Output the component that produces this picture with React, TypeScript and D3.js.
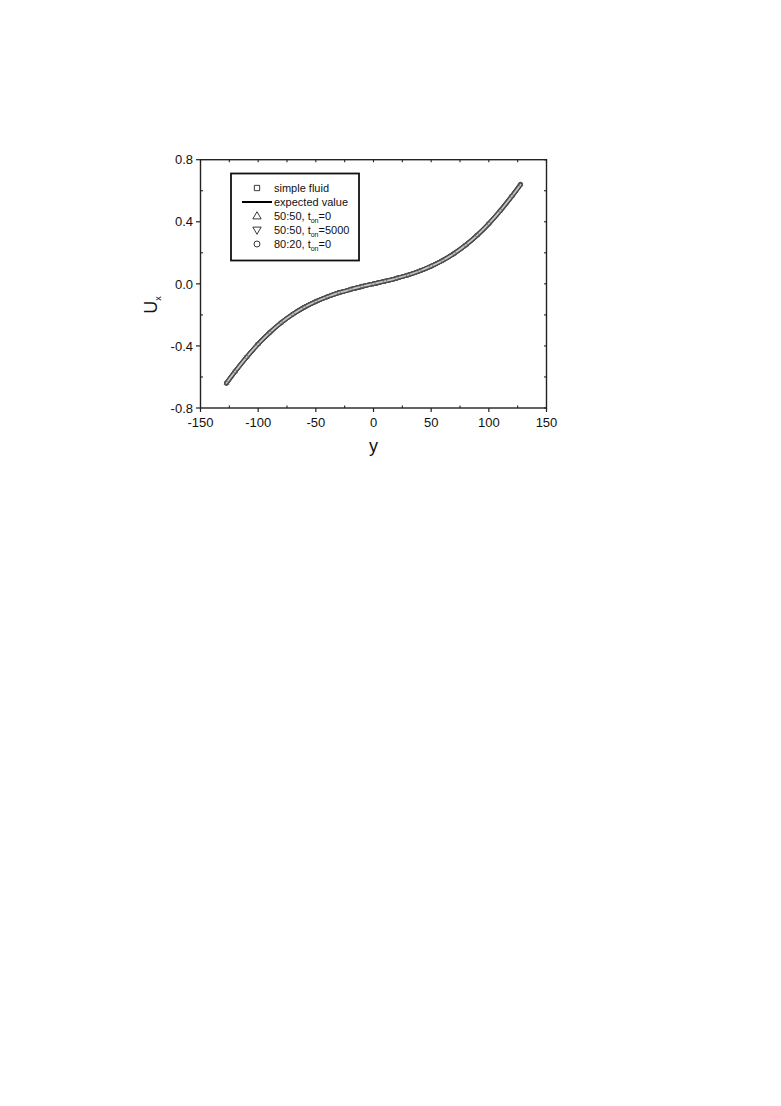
import React from 'react'
import * as d3 from 'd3'

// channel position y and velocity Ux
const yValues = [
  -127.5, -120, -110, -100, -90, -80, -70, -60, -50, -40, -30, -20, -10, 0,
  10, 20, 30, 40, 50, 60, 70, 80, 90, 100, 110, 120, 127.5,
]
const expectedUx = [
  -0.64, -0.565, -0.472, -0.388, -0.314, -0.25, -0.196, -0.151, -0.114, -0.083, -0.057, -0.036, -0.017, 0,
  0.017, 0.036, 0.057, 0.083, 0.114, 0.151, 0.196, 0.25, 0.314, 0.388, 0.472, 0.565, 0.64,
]
const simpleFluidUx = [
  -0.641, -0.565, -0.472, -0.388, -0.314, -0.25, -0.196, -0.151, -0.114, -0.083, -0.057, -0.036, -0.017, 0,
  0.017, 0.036, 0.057, 0.083, 0.114, 0.151, 0.196, 0.25, 0.314, 0.388, 0.472, 0.565, 0.641,
]
const mix5050T0Ux = [
  -0.64, -0.565, -0.472, -0.388, -0.314, -0.25, -0.196, -0.151, -0.114, -0.083, -0.057, -0.036, -0.017, 0,
  0.017, 0.036, 0.057, 0.083, 0.114, 0.151, 0.196, 0.25, 0.314, 0.388, 0.472, 0.565, 0.64,
]
const mix5050T5000Ux = [
  -0.64, -0.565, -0.472, -0.388, -0.314, -0.25, -0.196, -0.151, -0.114, -0.083, -0.057, -0.036, -0.017, 0,
  0.017, 0.036, 0.057, 0.083, 0.114, 0.151, 0.196, 0.25, 0.314, 0.388, 0.472, 0.565, 0.64,
]
const mix8020T0Ux = [
  -0.639, -0.565, -0.472, -0.388, -0.314, -0.25, -0.196, -0.151, -0.114, -0.083, -0.057, -0.036, -0.017, 0,
  0.017, 0.036, 0.057, 0.083, 0.114, 0.151, 0.196, 0.25, 0.314, 0.388, 0.472, 0.565, 0.639,
]

const xMajor = [-150, -100, -50, 0, 50, 100, 150]
const xMinor = [-125, -75, -25, 25, 75, 125]
const yMajor = [-0.8, -0.4, 0.0, 0.4, 0.8]
const yMinor = [-0.6, -0.2, 0.2, 0.6]

const font = '"Liberation Sans", Arial, sans-serif'

const W = 781
const H = 1106
const left = 200.5
const right = 546.5
const top = 159.7
const bottom = 408

export default function App() {
  const x = d3.scaleLinear().domain([-150, 150]).range([left, right])
  const y = d3.scaleLinear().domain([-0.8, 0.8]).range([bottom, top])

  const pts = (vals: number[]) => yValues.map((v, i) => [v, vals[i]] as [number, number])
  const line = d3
    .line<[number, number]>()
    .x(d => x(d[0]))
    .y(d => y(d[1]))
    .curve(d3.curveCatmullRom)

  const markerSeries = [
    { name: 'simple fluid', vals: simpleFluidUx, sym: d3.symbolSquare, rot: 0 },
    { name: '50:50 t0', vals: mix5050T0Ux, sym: d3.symbolTriangle, rot: 0 },
    { name: '50:50 t5000', vals: mix5050T5000Ux, sym: d3.symbolTriangle, rot: 180 },
    { name: '80:20 t0', vals: mix8020T0Ux, sym: d3.symbolCircle, rot: 0 },
  ]

  const legendSym = (sym: d3.SymbolType, size: number) => d3.symbol().type(sym).size(size)() || ''

  const fmtY = (v: number) => v.toFixed(1)
  const axisColor = '#222'

  const legendX = 257
  const textX = 274
  const rows = [188, 202, 216, 230, 244]

  return (
    <svg
      width={W}
      height={H}
      style={{ position: 'absolute', left: 0, top: 0, background: '#fff' }}
      fontFamily={font}
    >
      {/* expected value line */}
      <path d={line(pts(expectedUx)) || ''} fill="none" stroke="#000" strokeWidth={1.2} />

      {/* marker series: dense markers form a grey band */}
      {markerSeries.map(s => (
        <g key={s.name}>
          <path d={line(pts(s.vals)) || ''} fill="none" stroke="#4a4a4a" strokeWidth={4.4} strokeLinecap="round" />
          <path d={line(pts(s.vals)) || ''} fill="none" stroke="#c4c4c4" strokeWidth={1.8} strokeLinecap="round" />
          {pts(s.vals).map((d, i) => (
            <path
              key={i}
              d={legendSym(s.sym, 10)}
              transform={`translate(${x(d[0])},${y(d[1])}) rotate(${s.rot})`}
              fill="none"
              stroke="#5a5a5a"
              strokeWidth={0.6}
            />
          ))}
        </g>
      ))}

      {/* frame */}
      <rect
        x={left}
        y={top}
        width={right - left}
        height={bottom - top}
        fill="none"
        stroke={axisColor}
        strokeWidth={1.4}
      />

      {/* bottom axis */}
      {xMajor.map(t => (
        <g key={'bx' + t}>
          <line x1={x(t)} x2={x(t)} y1={bottom} y2={bottom + 4} stroke={axisColor} strokeWidth={1.2} />
          <text x={x(t)} y={427} textAnchor="middle" fontSize={13} fill="#111">
            {t}
          </text>
        </g>
      ))}
      {xMinor.map(t => (
        <line key={'bm' + t} x1={x(t)} x2={x(t)} y1={bottom} y2={bottom - 2.5} stroke={axisColor} strokeWidth={1.1} />
      ))}
      {/* top axis: inward ticks */}
      {xMajor.concat(xMinor).map(t => (
        <line key={'tx' + t} x1={x(t)} x2={x(t)} y1={top} y2={top + 2.5} stroke={axisColor} strokeWidth={1.1} />
      ))}

      {/* left axis */}
      {yMajor.map(t => (
        <g key={'ly' + t}>
          <line x1={left - 4.5} x2={left} y1={y(t)} y2={y(t)} stroke={axisColor} strokeWidth={1.2} />
          <text x={193} y={y(t) + 4.7} textAnchor="end" fontSize={13} fill="#111">
            {fmtY(t)}
          </text>
        </g>
      ))}
      {yMinor.map(t => (
        <line key={'lm' + t} x1={left} x2={left + 2.5} y1={y(t)} y2={y(t)} stroke={axisColor} strokeWidth={1.1} />
      ))}
      {/* right axis: inward ticks */}
      {yMajor.concat(yMinor).map(t => (
        <line key={'ry' + t} x1={right - 2.5} x2={right} y1={y(t)} y2={y(t)} stroke={axisColor} strokeWidth={1.1} />
      ))}

      {/* axis titles */}
      <text x={373.5} y={452} textAnchor="middle" fontSize={18} fill="#111">
        y
      </text>
      <text transform="translate(157,305) rotate(-90)" textAnchor="middle" fontSize={18} fill="#111">
        U
        <tspan fontSize={9} dy={4}>
          x
        </tspan>
      </text>

      {/* legend */}
      <rect x={231} y={173.5} width={128} height={87} fill="#fff" stroke="#111" strokeWidth={1.8} />
      <path
        d={legendSym(d3.symbolSquare, 28)}
        transform={`translate(${legendX},${rows[0]})`}
        fill="none"
        stroke="#222"
        strokeWidth={0.9}
      />
      <line x1={242} x2={272} y1={rows[1]} y2={rows[1]} stroke="#000" strokeWidth={2} />
      <path
        d={legendSym(d3.symbolTriangle, 30)}
        transform={`translate(${legendX},${rows[2] + 0.5})`}
        fill="none"
        stroke="#222"
        strokeWidth={0.9}
      />
      <path
        d={legendSym(d3.symbolTriangle, 30)}
        transform={`translate(${legendX},${rows[3] - 0.5}) rotate(180)`}
        fill="none"
        stroke="#222"
        strokeWidth={0.9}
      />
      <path
        d={legendSym(d3.symbolCircle, 28)}
        transform={`translate(${legendX},${rows[4]})`}
        fill="none"
        stroke="#222"
        strokeWidth={0.9}
      />
      <g fontSize={11} fill="#111">
        <text x={textX} y={rows[0] + 4}>simple fluid</text>
        <text x={textX} y={rows[1] + 4}>expected value</text>
        <text x={textX} y={rows[2] + 4}>
          50:50, t<tspan fontSize={7} dy={2.5}>on</tspan>
          <tspan dy={-2.5}>=0</tspan>
        </text>
        <text x={textX} y={rows[3] + 4}>
          50:50, t<tspan fontSize={7} dy={2.5}>on</tspan>
          <tspan dy={-2.5}>=5000</tspan>
        </text>
        <text x={textX} y={rows[4] + 4}>
          80:20, t<tspan fontSize={7} dy={2.5}>on</tspan>
          <tspan dy={-2.5}>=0</tspan>
        </text>
      </g>
    </svg>
  )
}
